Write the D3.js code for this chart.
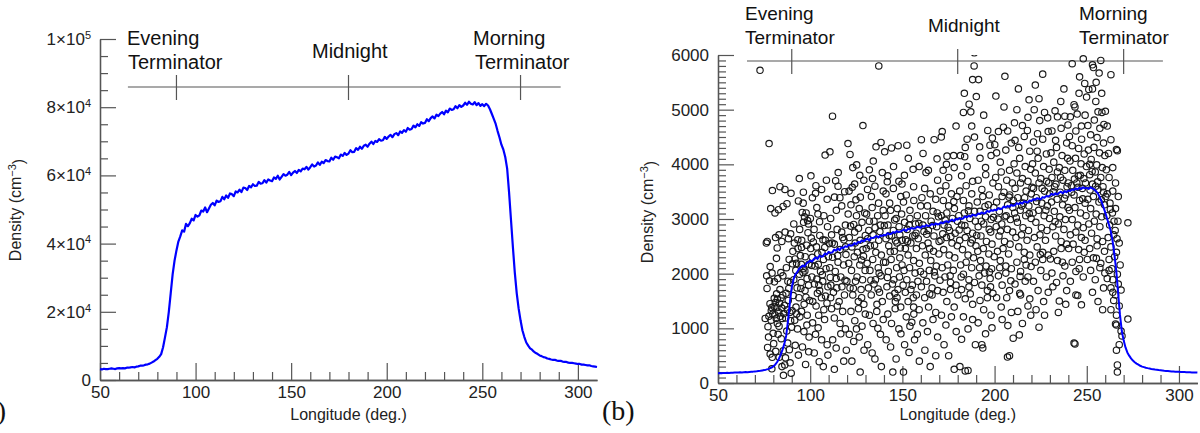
<!DOCTYPE html>
<html>
<head>
<meta charset="utf-8">
<script src="https://cdn.jsdelivr.net/npm/d3@7"></script>
<style>
  body { margin: 0; background: #fff; }
  svg { display: block; font-family: "Liberation Sans", Arial, Helvetica, sans-serif; }
</style>
</head>
<body>
<svg id="chart" width="1200" height="433"></svg>
<script>
// ---- data ----
const lonFirst = 50;   // both curves: one value per degree, 50..310

// panel (a) density, thousands of cm^-3
const densityA = [
  3.2,3.1,3.3,3.2,3.2,3.3,3.4,3.3,3.2,3.4,
  3.5,3.4,3.5,3.4,3.6,3.6,3.7,3.8,3.7,3.9,
  4.0,4.2,4.2,4.3,4.5,4.6,4.8,5.1,5.4,5.8,
  6.2,6.8,7.6,9.6,12.5,15.5,20.0,25.5,31.0,35.0,
  38.0,40.6,42.1,43.9,43.5,45.8,45.1,46.0,47.3,46.8,
  48.4,47.9,48.3,49.7,49.4,50.6,49.2,50.3,51.4,51.9,
  51.2,52.6,52.2,52.4,53.7,53.0,54.1,53.4,54.7,54.5,
  53.9,55.3,55.0,55.8,55.1,56.4,56.3,55.7,56.9,56.5,
  57.4,56.9,57.0,58.1,57.6,57.7,58.6,57.9,58.8,58.5,
  58.3,59.4,59.0,59.9,58.8,59.6,60.4,59.9,60.2,61.0,
  60.1,60.8,61.3,60.7,61.6,61.2,62.0,61.8,62.5,61.7,
  62.4,63.2,62.6,62.9,63.8,63.1,64.0,63.6,64.5,64.2,
  64.1,65.2,64.6,65.5,65.3,65.0,66.1,65.7,66.6,66.0,
  66.4,67.4,66.8,66.9,68.0,67.5,68.4,67.8,68.7,69.0,
  68.4,69.3,69.9,69.2,70.1,69.8,70.6,70.2,70.3,71.3,
  70.7,71.4,71.9,71.2,72.1,72.4,71.8,72.9,72.5,73.3,
  72.8,73.9,73.4,73.6,74.6,74.1,75.0,74.5,75.6,75.2,
  75.4,76.5,75.9,76.8,77.3,76.7,77.8,77.4,78.1,78.6,
  77.9,79.0,78.5,79.6,79.2,79.4,80.3,79.7,80.6,80.1,
  80.5,81.3,80.7,81.6,81.0,80.8,81.5,80.6,81.2,80.4,
  80.9,80.3,81.0,80.5,79.4,78.0,76.6,75.1,73.0,71.1,
  69.0,67.6,65.4,62.0,55.0,47.0,39.0,31.5,25.5,21.0,
  17.5,14.5,12.6,11.0,10.1,9.3,8.9,8.3,7.9,7.6,
  7.2,7.0,6.7,6.6,6.3,6.2,6.0,5.9,5.9,5.7,
  5.6,5.6,5.4,5.3,5.3,5.1,5.0,5.0,4.9,4.8,
  4.7,4.7,4.5,4.5,4.4,4.3,4.3,4.1,4.0,3.9,
  3.8
];

// panel (b) model curve, cm^-3
const densityB = [
  180,182,178,185,183,186,184,188,187,190,
  192,190,195,194,197,199,198,202,205,208,
  212,215,220,224,230,236,244,254,266,282,
  305,335,380,440,520,610,720,870,1150,1480,
  1750,1900,1990,2030,2090,2120,2150,2130,2190,2210,
  2240,2220,2270,2300,2270,2330,2310,2320,2370,2350,
  2400,2380,2390,2440,2420,2460,2430,2480,2470,2500,
  2490,2530,2510,2520,2560,2540,2580,2570,2610,2590,
  2620,2640,2610,2660,2650,2670,2690,2660,2700,2690,
  2710,2700,2740,2720,2730,2760,2750,2780,2760,2770,
  2790,2810,2780,2820,2810,2840,2820,2830,2860,2850,
  2840,2870,2860,2890,2870,2880,2910,2890,2920,2900,
  2910,2940,2920,2950,2960,2940,2970,2990,2960,3000,
  2990,3020,3000,3010,3050,3030,3060,3040,3080,3070,
  3060,3100,3090,3120,3100,3110,3150,3130,3160,3150,
  3170,3160,3200,3180,3190,3230,3210,3240,3220,3260,
  3240,3250,3290,3270,3300,3280,3320,3310,3300,3340,
  3330,3360,3350,3380,3370,3360,3400,3390,3420,3410,
  3430,3460,3440,3470,3450,3480,3500,3470,3510,3490,
  3520,3510,3540,3530,3560,3540,3570,3550,3580,3560,
  3570,3550,3580,3560,3540,3510,3470,3400,3320,3220,
  3120,3010,2900,2780,2600,2350,2050,1650,1250,950,
  780,650,560,500,450,410,380,355,335,315,
  300,290,280,272,265,258,252,246,241,236,
  232,228,224,221,218,215,212,210,208,206,
  204,202,200,199,198,196,195,194,193,192,
  190
];

// panel (b) individual measurements [longitude, density], grouped by longitude band
const obs70s = [[72.8,5720],[77.7,4380],[78.6,3190],[76.7,2590],[76.4,1960],[76.6,1730],[78.3,2130],[77.1,1030],[77.4,840],[76.9,650],[78.3,530],[79.4,470],[79.5,3520],[78.2,1450],[79.1,1380],[79.7,1260],[78.8,1150],[76.2,2560],[79.3,2010],[78.9,1320],[77.6,1220],[79.9,910],[79.2,260],[80.2,720],[77.9,1870],[75.6,1180]];
const obs80s = [[80.9,3110],[82.8,3170],[85.3,3230],[87.4,3280],[83.6,3590],[86.3,3540],[89.6,3470],[81.2,2660],[83.1,2710],[84.6,2590],[86.4,2760],[88.2,2640],[89.4,2730],[81.7,2280],[84.1,2020],[82.4,1910],[85.2,1960],[87.1,2110],[88.6,2260],[89.3,1840],[80.5,1550],[81.1,1470],[81.9,1380],[82.2,1530],[82.9,1300],[83.4,1460],[83.8,1220],[84.6,1370],[85.1,1610],[85.7,1270],[86.1,1420],[80.8,1250],[81.6,1180],[82.2,1090],[83.1,1040],[84.2,1560],[80.4,1400],[81.8,1630],[83.6,1710],[86.7,1190],[87.6,1340],[88.1,1510],[88.9,1290],[89.4,1140],[82.6,890],[84.3,810],[85.4,590],[86.6,460],[87.8,730],[88.7,610],[89.1,370],[89.7,180],[81.3,580],[83.2,470],[84.7,300],[85.5,140],[86.2,330],[87.3,950],[89.9,1020],[88.4,1730],[80.6,1850],[84.9,1180],[86.9,1640],[82.1,2470]];
const obs90s = [[94.1,3740],[93.6,3330],[95.7,3120],[96.9,3040],[98.6,2970],[100.1,3010],[96.4,2940],[99.1,2910],[97.8,3110],[90.6,2410],[91.4,2560],[92.6,2190],[93.4,2460],[94.7,2330],[95.4,2610],[96.2,2090],[97.3,2310],[98.1,2520],[99.3,2170],[91.1,1890],[92.2,2060],[92.9,1740],[94.2,1990],[95.1,1840],[96.1,2020],[97.2,1690],[98.3,1910],[99.1,1790],[90.8,1600],[92.3,1390],[93.9,1560],[95.3,1310],[96.7,1440],[98.4,1240],[99.7,1510],[91.6,1150],[93.1,990],[94.4,1210],[96.6,940],[98.2,1060],[99.4,840],[91.9,690],[93.6,510],[95.8,660],[97.5,340],[99.2,570],[94.3,2810],[91.1,2910],[96.2,3290],[100.4,3790],[92.7,1260],[95.2,2170],[97.7,1570],[90.4,2180],[93.3,2620]];
const obs100s = [[103.1,3610],[106.2,3540],[104.2,3090],[108.1,4170],[110.7,4230],[100.6,2650],[102.1,2810],[103.4,2490],[105.2,2700],[106.4,2390],[108.2,2610],[109.4,2860],[101.1,2300],[102.6,2140],[104.1,2360],[105.6,2040],[107.2,2260],[108.6,2090],[109.9,2310],[100.9,1940],[102.3,1810],[103.6,1900],[105.1,1690],[106.8,1860],[108.3,1590],[109.6,1760],[101.4,1490],[103.2,1410],[104.6,1240],[106.1,1560],[107.4,1340],[109.1,1460],[101.3,1100],[102.9,890],[104.3,1010],[106.2,790],[107.8,1160],[109.2,700],[102.2,550],[104.9,390],[107.1,300],[109.6,510],[103.6,3210],[107.4,3060],[101.2,3390],[109.2,3360],[105.1,2950],[100.3,2460],[106.9,2620],[104.7,1790]];
const obs110s = [[112.1,4880],[113.2,3400],[116.1,3390],[115.2,3850],[111.1,3010],[114.2,3160],[117.1,3240],[119.1,2890],[111.6,2710],[113.1,2540],[114.6,2810],[116.2,2440],[117.6,2660],[119.2,2490],[110.6,2110],[112.1,2300],[113.6,2040],[115.1,2210],[116.6,1940],[118.1,2160],[119.4,2350],[111.2,1790],[112.6,1660],[114.1,1910],[115.7,1490],[117.2,1760],[118.6,1610],[119.9,1860],[111.6,1360],[113.1,1190],[114.7,1410],[116.2,1090],[117.6,1310],[119.1,990],[112.2,790],[114.1,640],[116.6,900],[118.2,400],[119.6,600],[113.1,250],[111.1,1560],[117.1,2760],[115.1,3600],[118.7,3500],[110.4,2550]];
const obs120s = [[121.6,4180],[123.1,3940],[125.2,3990],[128.6,4710],[121.1,3510],[124.1,3640],[127.2,3400],[129.1,3710],[120.6,3090],[122.1,3260],[123.6,2900],[125.1,3060],[126.6,3190],[128.1,2940],[129.6,3110],[121.2,2660],[122.6,2490],[124.1,2760],[125.6,2390],[127.1,2610],[128.6,2440],[129.9,2700],[120.9,2190],[122.4,2060],[123.9,2310],[125.4,1940],[126.9,2160],[128.4,1890],[129.8,2060],[121.6,1740],[123.1,1610],[124.6,1860],[126.1,1490],[127.6,1710],[129.1,1440],[122.1,1310],[124.2,1140],[126.2,1360],[128.1,1040],[129.9,1260],[121.2,890],[123.6,760],[126.6,840],[129.2,600],[122.6,400],[127.1,200],[125.1,990],[124.8,3350],[127.8,2250]];
const obs130s = [[137.2,5800],[135.7,4320],[138.4,4400],[132.1,3900],[134.2,4060],[139.1,3850],[131.1,3540],[133.2,3410],[135.1,3600],[137.1,3290],[139.6,3510],[130.6,3090],[132.1,2960],[133.6,3210],[135.2,2840],[136.6,3060],[138.1,2890],[139.6,3160],[131.2,2640],[132.6,2510],[134.1,2710],[135.6,2390],[137.2,2610],[138.6,2340],[130.9,2190],[132.4,2060],[133.9,2260],[135.4,1890],[136.9,2110],[138.4,1960],[139.8,2210],[131.6,1740],[133.1,1610],[134.6,1810],[136.2,1440],[137.6,1660],[139.1,1490],[132.1,1240],[134.1,1090],[136.1,1310],[138.1,890],[139.6,1160],[131.2,700],[133.6,550],[136.7,1000],[138.6,300],[135.1,440],[130.4,2460],[134.6,2960],[137.4,2010]];
const obs140s = [[140.4,4230],[144.1,4300],[147.7,4340],[142.1,3790],[145.2,3960],[148.1,3690],[141.1,3460],[143.1,3290],[145.1,3560],[147.2,3190],[149.1,3410],[140.6,3060],[142.2,2890],[143.6,3160],[145.1,2790],[146.6,3010],[148.2,2860],[149.6,3090],[141.1,2640],[142.6,2510],[144.2,2690],[145.6,2410],[147.1,2560],[148.6,2290],[149.9,2610],[140.9,2210],[142.4,2040],[143.9,2260],[145.4,1890],[146.9,2110],[148.4,1940],[149.8,2160],[141.6,1760],[143.1,1590],[144.6,1810],[146.2,1490],[147.6,1710],[149.1,1390],[142.1,1260],[144.1,1090],[146.1,1360],[148.1,990],[141.2,790],[143.6,660],[146.6,440],[149.2,900],[144.8,200],[147.1,1560],[148.6,2710],[143.4,2400],[146.3,2600]];
const obs150s = [[151.1,3800],[153.2,4110],[156.1,3590],[159.1,3960],[150.6,3310],[152.1,3440],[154.1,3160],[156.2,3340],[158.1,3060],[159.9,3240],[151.2,2940],[152.6,2810],[154.1,3010],[155.6,2690],[157.1,2910],[158.6,2640],[151.6,2460],[153.1,2340],[154.6,2560],[156.1,2240],[157.6,2460],[159.2,2190],[150.9,2060],[152.4,1890],[153.9,2110],[155.4,1790],[156.9,2010],[158.4,1860],[159.8,2040],[151.6,1660],[153.1,1490],[154.6,1710],[156.1,1390],[157.6,1610],[159.1,1340],[152.1,1210],[154.1,1040],[156.2,1260],[158.1,890],[151.2,700],[153.6,560],[156.6,790],[159.2,400],[150.6,200],[155.1,1110],[157.4,2740],[152.8,2590]];
const obs160s = [[161.2,4200],[164.1,3890],[167.2,4450],[169.1,3710],[160.6,3390],[162.1,3560],[163.6,3240],[165.1,3460],[166.6,3140],[168.1,3360],[169.6,3040],[161.1,2890],[162.6,3060],[164.1,2790],[165.6,2960],[167.1,2690],[168.6,2860],[169.9,2590],[160.9,2510],[162.4,2340],[163.9,2560],[165.4,2240],[166.9,2410],[168.4,2140],[169.8,2360],[161.6,1990],[163.1,1860],[164.6,2060],[166.1,1740],[167.6,1960],[169.1,1690],[162.1,1560],[164.2,1390],[166.1,1610],[168.1,1290],[161.1,1100],[163.6,940],[166.6,1160],[169.1,840],[162.2,600],[165.1,300],[168.1,500],[167.3,2030],[163.2,2720]];
const obs170s = [[171.1,4500],[174.2,4150],[177.8,4160],[179.1,4700],[172.1,3890],[175.1,3760],[178.1,3940],[170.6,3510],[172.2,3340],[173.6,3610],[175.1,3240],[176.6,3460],[178.2,3190],[179.6,3410],[171.1,3060],[172.6,2890],[174.1,3110],[175.6,2790],[177.1,3010],[178.6,2740],[179.9,2960],[170.9,2610],[172.4,2440],[173.9,2660],[175.4,2340],[176.9,2560],[178.4,2290],[179.8,2510],[171.6,2110],[173.1,1940],[174.6,2160],[176.1,1840],[177.6,2060],[179.1,1790],[172.1,1660],[174.1,1490],[176.1,1710],[178.1,1390],[171.2,1240],[173.6,1060],[176.6,1210],[179.2,940],[172.6,700],[175.1,500],[178.1,250],[180.1,1610],[174.8,2850]];
const obs180s = [[188.9,5800],[188.1,5550],[186.2,5100],[187.6,4700],[190.1,5240],[183.1,4950],[187.1,4960],[185.1,4460],[189.1,4500],[181.5,4160],[184.1,4310],[182.1,3790],[185.1,3960],[188.1,3690],[181.1,3510],[183.1,3340],[184.6,3610],[186.1,3240],[187.6,3460],[189.1,3140],[180.6,3060],[182.1,2890],[183.6,3110],[185.1,2790],[186.6,3010],[188.1,2740],[189.6,2960],[181.1,2610],[182.6,2440],[184.1,2660],[185.6,2340],[187.1,2560],[188.6,2290],[189.9,2510],[181.6,2160],[183.1,1990],[184.6,2210],[186.1,1890],[187.6,2110],[189.1,1840],[182.1,1710],[184.1,1540],[186.1,1760],[188.1,1440],[183.1,1210],[185.6,990],[188.1,1160],[189.6,700],[184.1,220],[185.6,230],[182.1,800],[181.2,300],[189.0,6040]];
const obs190s = [[194.1,4900],[197.5,4350],[200.1,4360],[192.1,4110],[195.1,3940],[198.1,4160],[191.1,3710],[193.1,3540],[195.2,3810],[197.1,3440],[199.1,3660],[190.6,3310],[192.1,3140],[193.6,3410],[195.1,3040],[196.6,3260],[198.1,2990],[199.6,3210],[191.1,2860],[192.6,2690],[194.1,2910],[195.6,2590],[197.1,2810],[198.6,2540],[190.9,2410],[192.4,2240],[193.9,2460],[195.4,2140],[196.9,2360],[198.4,2090],[199.8,2310],[191.6,1960],[193.1,1790],[194.6,2010],[196.1,1690],[197.6,1910],[199.1,1640],[192.1,1510],[194.1,1340],[196.1,1560],[198.1,1240],[193.1,700],[193.6,640],[191.1,1100],[195.1,900],[198.6,1010],[197.2,2030],[196.3,4620]];
const obs200s = [[205.6,5610],[205.1,5050],[202.1,4600],[207.1,4610],[209.1,4390],[201.1,4210],[203.1,4040],[206.1,4260],[208.1,3890],[200.6,3760],[202.1,3590],[203.6,3860],[205.1,3490],[206.6,3710],[208.2,3440],[209.6,3660],[201.1,3310],[202.6,3140],[204.1,3410],[205.6,3040],[207.1,3260],[208.6,2990],[209.9,3210],[200.9,2860],[202.4,2690],[203.9,2910],[205.4,2590],[206.9,2810],[208.4,2540],[209.8,2760],[201.6,2410],[203.1,2240],[204.6,2460],[206.1,2140],[207.6,2360],[209.1,2090],[202.1,1960],[204.1,1790],[206.1,2010],[208.1,1690],[201.1,1560],[203.6,1390],[206.6,1560],[209.1,1290],[210.1,820],[208.1,500],[204.1,1160],[207.2,1050],[207.0,475]];
const obs210s = [[212.1,5000],[215.1,4710],[218.1,4860],[211.1,4440],[213.1,4310],[216.1,4510],[219.1,4240],[210.6,4010],[212.1,3840],[213.6,4110],[215.1,3740],[216.6,3960],[218.1,3690],[219.6,3910],[211.1,3560],[212.6,3390],[214.1,3660],[215.6,3290],[217.1,3510],[218.6,3240],[219.9,3460],[210.9,3110],[212.4,2940],[213.9,3160],[215.4,2840],[216.9,3060],[218.4,2790],[219.8,3010],[211.6,2660],[213.1,2490],[214.6,2710],[216.1,2390],[217.6,2610],[219.1,2340],[212.1,2210],[214.1,2040],[216.1,2260],[218.1,1940],[211.1,1810],[213.6,1640],[216.6,1860],[219.1,1540],[212.6,1310],[215.1,1090],[218.1,1410],[214.1,1610],[217.1,2160],[213.4,880],[219.6,1240]];
const obs220s = [[224.1,5200],[224.5,4800],[222.1,5450],[227.1,4950],[229.1,4600],[221.1,4410],[223.1,4240],[226.1,4460],[228.1,4190],[220.6,4010],[222.1,3840],[223.6,4110],[225.1,3740],[226.6,3960],[228.2,3690],[229.6,3910],[221.1,3560],[222.6,3390],[224.1,3660],[225.6,3290],[227.1,3510],[228.6,3240],[229.9,3460],[220.9,3110],[222.4,2940],[223.9,3160],[225.4,2840],[226.9,3060],[228.4,2790],[229.8,3010],[221.6,2660],[223.1,2490],[224.6,2710],[226.1,2390],[227.6,2610],[229.1,2340],[222.1,2210],[224.1,1020],[226.1,2260],[228.1,1940],[221.1,1860],[223.6,1690],[226.6,1490],[229.1,1660],[222.5,1340],[227.1,1240],[225.1,2060],[221.5,5000]];
const obs230s = [[237.6,5380],[234.1,4870],[238.1,4880],[231.1,4610],[233.1,4440],[236.1,4660],[239.1,4390],[230.6,4210],[232.1,4040],[233.6,4310],[235.1,3940],[236.6,4160],[238.1,3890],[239.6,4110],[231.1,3760],[232.6,3590],[234.1,3860],[235.6,3490],[237.1,3710],[238.6,3440],[239.9,3660],[230.9,3310],[232.4,3140],[233.9,3360],[235.4,3040],[236.9,3260],[238.4,2990],[239.8,3210],[231.6,2860],[233.1,2690],[234.6,2910],[236.1,2590],[237.6,2810],[239.1,2540],[232.1,2410],[234.1,2240],[236.1,2460],[238.1,2140],[231.1,2010],[233.6,1840],[235.1,1500],[231.6,1760],[237.1,1960],[239.1,1690],[234.6,1290],[238.6,1440],[232.8,2950]];
const obs240s = [[242.1,5840],[248.1,5930],[246.1,5600],[243.1,5090],[243.6,5050],[241.1,4870],[247.1,4700],[249.1,4900],[240.6,4510],[242.1,4340],[244.1,4610],[245.6,4290],[247.2,4460],[248.6,4190],[240.9,4060],[242.4,3890],[243.9,4110],[245.4,3790],[246.9,4010],[248.4,3740],[249.8,3960],[241.6,3610],[243.1,3440],[244.6,3660],[246.1,3340],[247.6,3560],[249.1,3290],[240.6,3160],[242.1,2990],[243.6,3210],[245.1,2890],[246.6,3110],[248.1,2840],[249.6,3060],[241.1,2710],[242.6,2540],[244.1,2760],[245.6,2440],[247.1,2660],[248.6,2390],[242.1,2210],[244.1,2040],[246.1,2260],[248.1,1940],[244.1,1610],[245.1,1600],[247.1,1430],[243.1,730],[243.6,715],[241.1,1860],[249.1,2610],[245.8,5300],[246.5,3800]];
const obs250s = [[253.1,5820],[253.6,5770],[257.6,5900],[251.1,5370],[253.1,5380],[255.1,5500],[258.1,5300],[256.1,4960],[258.2,4950],[260.1,4970],[250.6,4710],[252.1,4540],[254.1,4810],[255.6,4490],[257.1,4660],[259.1,4390],[250.9,4260],[252.4,4090],[253.9,4310],[255.4,3990],[256.9,4210],[258.4,3940],[259.8,4160],[251.6,3810],[253.1,3640],[254.6,3860],[256.1,3540],[257.6,3760],[259.1,3490],[250.6,3360],[252.1,3190],[253.6,3410],[255.1,3090],[256.6,3310],[258.1,3040],[259.6,3260],[251.1,2910],[252.6,2740],[254.1,2960],[255.6,2640],[257.1,2860],[258.6,2590],[251.6,2460],[253.6,2290],[255.6,2510],[257.6,2190],[259.6,2410],[252.1,2060],[254.6,1890],[257.1,2110],[259.1,1740],[253.1,1660],[256.1,1490],[258.6,1340],[251.6,4000],[254.8,3600],[257.9,3350]];
const obs260s = [[263.1,5640],[261.1,4700],[263.1,4450],[266.1,4270],[266.6,4250],[260.6,3900],[262.1,3760],[264.1,3940],[265.6,3660],[261.1,3460],[262.6,3290],[264.1,3510],[265.6,3190],[267.1,3410],[260.9,3060],[262.4,2890],[263.9,3110],[265.4,2790],[266.9,2960],[272.3,2930],[261.6,2660],[263.1,2490],[264.6,2710],[266.1,2390],[267.6,2560],[262.1,2260],[263.6,2090],[265.1,2310],[266.6,1990],[268.1,2160],[261.1,1910],[263.1,1740],[264.1,1890],[265.6,1610],[267.1,1810],[263.1,1340],[264.6,1510],[266.1,1240],[267.6,1410],[266.1,1060],[265.6,1080],[272.3,1170],[268.6,950],[266.1,600],[266.6,330],[266.6,200],[269.1,860],[267.6,700],[264.1,1660],[262.1,2060],[268.6,1700],[261.8,4200]];
const obsCore = [[95.3,2480],[98.8,2750],[101.7,2580],[104.4,2170],[107.9,2480],[111.9,2560],[114.9,2330],[118.3,2620],[121.9,2870],[124.4,2560],[126.2,2830],[128.9,2320],[131.8,2790],[134.9,2520],[137.8,2770],[140.2,2880],[142.9,2700],[145.8,2980],[148.9,2470],[151.8,2620],[153.7,2890],[156.8,2700],[158.9,2920],[161.7,2770],[164.8,2460],[166.3,2880],[168.9,3110],[171.9,2730],[173.2,2980],[176.3,2680],[177.9,3320],[180.8,2800],[183.9,2880],[185.8,3150],[187.9,2620],[190.3,2700],[192.8,2960],[194.8,3230],[197.9,2760],[199.4,3030],[201.9,3000],[203.2,2780],[206.3,3060],[207.9,3400],[210.2,3340],[211.8,3020],[214.7,3240],[216.3,3390],[218.8,3100],[220.3,3580],[222.8,3320],[225.8,3560],[227.8,3160],[229.4,3660],[231.8,3500],[233.3,3640],[235.8,3760],[237.9,3380],[239.3,3590],[241.8,3490],[243.3,3730],[245.2,3580],[247.8,3370],[249.3,3660],[251.8,3530],[252.9,3870],[255.9,3680],[258.8,3590],[260.3,3410],[262.8,3180],[264.8,2960],[266.4,2640]];
const obsMid = [[87.9,1860],[90.2,1320],[91.8,2270],[94.9,1730],[97.1,2050],[100.8,2150],[103.9,1640],[106.6,1980],[110.9,1930],[114.4,1740],[118.9,1880],[123.4,1730],[127.9,1560],[132.9,1880],[136.8,1720],[141.9,1930],[145.9,1640],[150.4,1790],[155.9,1560],[160.3,1760],[164.8,1630],[170.4,1880],[175.9,1960],[181.9,1940],[186.8,1630],[191.9,2110],[197.8,1760],[202.8,2110],[208.8,1870],[213.8,1950],[219.8,2130],[224.8,2350],[230.3,2270],[236.8,2210],[240.2,2460],[245.9,2090],[250.3,2260],[255.2,2280],[259.8,2010]];
const obsHigh = [[96.3,3490],[102.9,3470],[108.8,3710],[113.8,3700],[122.8,3580],[126.9,3800],[133.8,3740],[141.8,3680],[149.8,3640],[155.8,3910],[162.8,3850],[168.8,4100],[173.9,4000],[183.8,4140],[191.9,4320],[198.8,4480],[204.8,4680],[210.8,4760],[217.8,4620],[223.3,4560],[228.8,4850],[232.8,4980],[239.8,4720],[244.8,4920],[249.9,5230],[254.9,5150],[259.3,4730],[235.9,5150],[226.1,5650],[218.7,5180],[248.9,5480],[256.7,5670],[183.6,5300],[191.3,5550],[200.7,5250],[212.9,5380],[160.3,4450],[120.5,4380],[152.4,4350],[171.6,4600]];

const xMajor = [50, 100, 150, 200, 250, 300];
const xMinor = [60, 70, 80, 90, 110, 120, 130, 140, 160, 170, 180, 190, 210, 220, 230, 240, 260, 270, 280, 290];
const yMajorA = [0, 20000, 40000, 60000, 80000, 100000];
const yMinorA = [5000, 10000, 15000, 25000, 30000, 35000, 45000, 50000, 55000, 65000, 70000, 75000, 85000, 90000, 95000];
const yMajorB = [0, 1000, 2000, 3000, 4000, 5000, 6000];
const terminatorLon = [90, 180, 270];

const FONT = '"Liberation Sans", Arial, Helvetica, sans-serif';
const svg = d3.select("#chart");

function drawAxes(x, y, p) {
    const g = svg.append("g");
    const bottom = y.range()[0], left = x.range()[0];

    g.append("g").attr("transform", `translate(0,${bottom})`)
        .call(d3.axisBottom(x).tickValues(xMinor).tickSize(-8).tickSizeOuter(0).tickFormat(""));
    g.append("g").attr("transform", `translate(0,${bottom})`)
        .call(d3.axisBottom(x).tickValues(xMajor).tickSize(-17).tickSizeOuter(0).tickPadding(6));
    g.append("g").attr("transform", `translate(${left},0)`)
        .call(d3.axisLeft(y).tickValues(p.yMinor).tickSize(-8).tickSizeOuter(0).tickFormat(""));
    const yAx = g.append("g").attr("transform", `translate(${left},0)`)
        .call(d3.axisLeft(y).tickValues(p.yMajor).tickSize(-16).tickSizeOuter(0).tickPadding(9)
            .tickFormat(d3.format("d")));

    g.selectAll("path.domain").attr("stroke", "#555").attr("stroke-width", 1.3);
    g.selectAll(".tick line").attr("stroke", "#555").attr("stroke-width", 1.2);
    g.selectAll(".tick text").attr("fill", "#222").attr("font-size", 17).attr("font-family", FONT);

    if (p.powers) {
        yAx.selectAll(".tick text").each(function(d) {
            const t = d3.select(this);
            if (d === 0) return;
            const e = Math.floor(Math.log10(d));
            const m = Math.round(d / Math.pow(10, e));
            t.text(null);
            t.append("tspan").text(m + "\u00d710");
            t.append("tspan").attr("dy", "-0.55em").attr("font-size", 11).text(e);
        });
    }

    // axis titles
    svg.append("text")
        .attr("x", (x.range()[0] + x.range()[1]) / 2).attr("y", 420)
        .attr("text-anchor", "middle").attr("font-size", 16).attr("fill", "#222")
        .text("Longitude (deg.)");

    const yt = svg.append("text")
        .attr("transform", `translate(${p.yTitleX},${p.yTitleY}) rotate(-90)`)
        .attr("text-anchor", "middle").attr("font-size", 16).attr("fill", "#222");
    yt.append("tspan").text("Density (cm");
    yt.append("tspan").attr("dy", "-0.5em").attr("font-size", 11).text("\u22123");
    yt.append("tspan").attr("dy", "0.5em").text(")");
}

function drawTerminators(x, p) {
    const g = svg.append("g").attr("stroke", "#555").attr("stroke-width", 1.2);
    g.append("line")
        .attr("x1", x(p.from)).attr("x2", x(p.to))
        .attr("y1", p.ly).attr("y2", p.ly);
    g.selectAll("line.tick").data(terminatorLon).enter().append("line")
        .attr("class", "tick")
        .attr("x1", d => x(d)).attr("x2", d => x(d))
        .attr("y1", p.ly - 12).attr("y2", p.ly + 13);

    svg.append("g").attr("font-size", p.fs).attr("fill", "#111")
        .selectAll("text").data(p.labels).enter().append("text")
        .attr("x", d => d[1]).attr("y", d => d[2])
        .text(d => d[0]);
}

// ---- panel (a) ----
const xA = d3.scaleLinear().domain([50, 310]).range([100, 597]);
const yA = d3.scaleLinear().domain([0, 100000]).range([380, 39]);

drawAxes(xA, yA, { yMajor: yMajorA, yMinor: yMinorA, powers: true, yTitleX: 21, yTitleY: 210 });
drawTerminators(xA, {
    from: 64.6, to: 291, ly: 87, fs: 20,
    labels: [["Evening", 127, 45], ["Terminator", 128, 69], ["Midnight", 312, 58],
             ["Morning", 473, 45], ["Terminator", 475, 69]]
});

svg.append("path")
    .datum(densityA)
    .attr("fill", "none")
    .attr("stroke", "#0000ff")
    .attr("stroke-width", 2.2)
    .attr("stroke-linejoin", "round")
    .attr("d", d3.line().x((d, i) => xA(lonFirst + i)).y(d => yA(d * 1000)));

// ---- panel (b) ----
const xB = d3.scaleLinear().domain([50, 310]).range([718, 1197.4]);
const yB = d3.scaleLinear().domain([0, 6000]).range([383, 55]);
const yMinorB = d3.range(100, 6000, 100).filter(v => v % 1000 !== 0);

drawAxes(xB, yB, { yMajor: yMajorB, yMinor: yMinorB, powers: false, yTitleX: 653, yTitleY: 212 });
drawTerminators(xB, {
    from: 65.7, to: 291.3, ly: 61, fs: 19,
    labels: [["Evening", 745, 20], ["Terminator", 745, 44], ["Midnight", 928, 32],
             ["Morning", 1079, 20], ["Terminator", 1079, 44]]
});

svg.append("clipPath").attr("id", "clipB")
    .append("rect").attr("x", 718).attr("y", 55).attr("width", 480).attr("height", 328);

const observations = [].concat(obs70s, obs80s, obs90s, obs100s, obs110s, obs120s, obs130s,
    obs140s, obs150s, obs160s, obs170s, obs180s, obs190s, obs200s, obs210s, obs220s,
    obs230s, obs240s, obs250s, obs260s, obsCore, obsMid, obsHigh);

svg.append("g")
    .attr("clip-path", "url(#clipB)")
    .selectAll("circle")
    .data(observations)
    .enter().append("circle")
    .attr("cx", d => xB(d[0]))
    .attr("cy", d => yB(d[1]))
    .attr("r", 3.2)
    .attr("fill", "none")
    .attr("stroke", "#1a1a1a")
    .attr("stroke-width", 1.15);

svg.append("path")
    .datum(densityB)
    .attr("fill", "none")
    .attr("stroke", "#0000ff")
    .attr("stroke-width", 2)
    .attr("stroke-linejoin", "round")
    .attr("d", d3.line().x((d, i) => xB(lonFirst + i)).y(d => yB(d)));

// panel letters
svg.append("text").attr("x", 6).attr("y", 420).attr("text-anchor", "end")
    .attr("font-family", '"Liberation Serif", "Times New Roman", serif').attr("font-size", 28)
    .attr("fill", "#111").text("(a)");
svg.append("text").attr("x", 602).attr("y", 420)
    .attr("font-family", '"Liberation Serif", "Times New Roman", serif').attr("font-size", 28)
    .attr("fill", "#111").text("(b)");
</script>
</body>
</html>
